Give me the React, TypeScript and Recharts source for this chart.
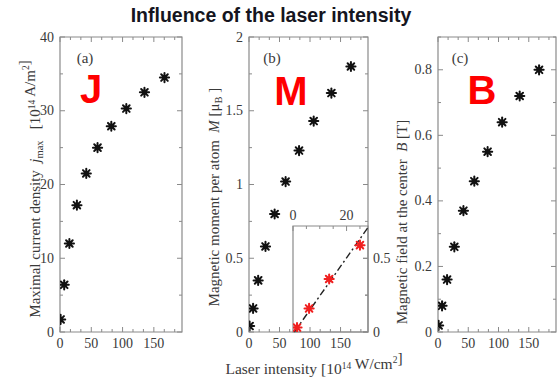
import React from "react";
import { ScatterChart, Scatter, XAxis, YAxis, ReferenceArea, ReferenceLine } from "recharts";

// laser intensity [10^14 W/cm^2]
const intensity = [1, 6.7, 15, 27, 42, 60, 82, 106, 135, 167];
// maximal current density j_max [10^14 A/m^2]
const currentDensity = [1.7, 6.4, 12.0, 17.2, 21.5, 25.0, 27.9, 30.3, 32.5, 34.5];
// magnetic moment per atom M [mu_B]
const magneticMoment = [0.04, 0.16, 0.35, 0.58, 0.8, 1.02, 1.23, 1.43, 1.62, 1.8];
// magnetic field at the center B [T]
const magneticField = [0.02, 0.08, 0.16, 0.26, 0.37, 0.46, 0.55, 0.64, 0.72, 0.8];

// low-intensity zoom of M with its linear fit
const insetIntensity = [1.5, 6, 13.5, 25];
const insetMoment = [0.03, 0.16, 0.36, 0.59];
const insetFitX = [0.5, 28];
const insetFitY = [0, 0.71];

const xLabels = [0, 50, 100, 150];
const jLabels = [0, 10, 20, 30, 40];
const mLabels = [0, 0.5, 1, 1.5, 2];
const bLabels = [0, 0.2, 0.4, 0.6, 0.8];
const insetXLabels = [0, 20];
const insetYLabels = [0, 0.5];

const W = 559;
const H = 383;
const TOP = 37;
const BOTTOM = 332;
const X_MAX = 195;

const FRAME = "#8a8a8a";
const INK = "#3a3a3a";
const SERIF = "'Liberation Serif', 'Times New Roman', serif";
const SANS = "'Liberation Sans', Arial, sans-serif";

const steps = (max: number, step: number) => {
  const out: number[] = [];
  for (let v = 0; v <= max + 1e-9; v += step) out.push(Math.round(v * 1e6) / 1e6);
  return out;
};
const isMajor = (v: number, majors: number[]) => majors.some((m) => Math.abs(m - v) < 1e-6);

const toPoints = (xs: number[], ys: number[]) => xs.map((x, i) => ({ x, y: ys[i] }));

const Star = (props: any) => {
  const { cx, cy, color } = props;
  if (cx == null || cy == null) return null;
  const r = 4.6;
  const d = r * 0.72;
  return (
    <g stroke={color} strokeWidth={2} strokeLinecap="round">
      <line x1={cx - r} y1={cy} x2={cx + r} y2={cy} />
      <line x1={cx} y1={cy - r} x2={cx} y2={cy + r} />
      <line x1={cx - d} y1={cy - d} x2={cx + d} y2={cy + d} />
      <line x1={cx - d} y1={cy + d} x2={cx + d} y2={cy - d} />
      <circle cx={cx} cy={cy} r={2.7} fill={color} stroke="none" />
    </g>
  );
};

const fmt = (v: number) => String(Math.round(v * 100) / 100);
const tickText = { fontFamily: SERIF, fontSize: 14, fill: INK };

type PanelProps = {
  left: number;
  right: number;
  top: number;
  bottom: number;
  xDomain: [number, number];
  yDomain: [number, number];
  xMajor: number[];
  xStep: number;
  yMajor: number[];
  yStep: number;
  data: { x: number; y: number }[];
  color: string;
  inset?: boolean;
  fit?: { x: number; y: number }[];
};

function Panel(p: PanelProps) {
  const xTicks = steps(p.xDomain[1], p.xStep);
  const yTicks = steps(p.yDomain[1], p.yStep);

  const xTick = (t: any) => {
    const x = t.x;
    const v = t.payload.value;
    const major = isMajor(v, p.xMajor);
    const len = major ? 5 : 3;
    return (
      <g>
        {!p.inset && <line x1={x} x2={x} y1={p.bottom} y2={p.bottom - len} stroke={FRAME} />}
        <line x1={x} x2={x} y1={p.top} y2={p.top + len} stroke={FRAME} />
        {major && (
          <text x={x} y={p.inset ? p.top - 6 : p.bottom + 16} textAnchor="middle" style={tickText}>
            {fmt(v)}
          </text>
        )}
      </g>
    );
  };

  const yTick = (t: any) => {
    const y = t.y;
    const v = t.payload.value;
    const major = isMajor(v, p.yMajor);
    const len = major ? 5 : 3;
    return (
      <g>
        {!p.inset && <line x1={p.left} x2={p.left + len} y1={y} y2={y} stroke={FRAME} />}
        <line x1={p.right} x2={p.right - len} y1={y} y2={y} stroke={FRAME} />
        {major && (
          <text
            x={p.inset ? p.right + 5 : p.left - 6}
            y={y + 4.5}
            textAnchor={p.inset ? "start" : "end"}
            style={tickText}
          >
            {fmt(v)}
          </text>
        )}
      </g>
    );
  };

  // axes need a non-zero size to draw their ticks, so 1px is carved out of the margin
  const margin = p.inset
    ? { top: p.top - 1, bottom: H - p.bottom, left: p.left, right: W - p.right - 1 }
    : { top: p.top, bottom: H - p.bottom - 1, left: p.left - 1, right: W - p.right };

  return (
    <div style={{ position: "absolute", left: 0, top: 0 }}>
      <ScatterChart width={W} height={H} margin={margin}>
        <XAxis
          type="number"
          dataKey="x"
          domain={p.xDomain}
          ticks={xTicks}
          interval={0}
          height={1}
          orientation={p.inset ? "top" : "bottom"}
          axisLine={false}
          tickLine={false}
          tick={xTick}
          allowDataOverflow
        />
        <YAxis
          type="number"
          dataKey="y"
          domain={p.yDomain}
          ticks={yTicks}
          interval={0}
          width={1}
          orientation={p.inset ? "right" : "left"}
          axisLine={false}
          tickLine={false}
          tick={yTick}
          allowDataOverflow
        />
        <ReferenceArea
          x1={p.xDomain[0]}
          x2={p.xDomain[1]}
          y1={p.yDomain[0]}
          y2={p.yDomain[1]}
          fill="none"
          stroke={FRAME}
          strokeWidth={1.2}
          fillOpacity={0}
        />
        {p.fit && (
          <ReferenceLine
            segment={p.fit}
            stroke="#222"
            strokeWidth={1.4}
            strokeDasharray="7 3 2 3"
          />
        )}
        <Scatter
          data={p.data}
          isAnimationActive={false}
          shape={(s: any) => <Star cx={s.cx} cy={s.cy} color={p.color} />}
        />
      </ScatterChart>
    </div>
  );
}

const sub = (t: string) => (
  <>
    <tspan dy={3} fontSize={10.5}>
      {t}
    </tspan>
    <tspan dy={-3}>{"\u00a0"}</tspan>
  </>
);
const sup = (t: string) => (
  <>
    <tspan dy={-5.5} fontSize={9.5}>
      {t}
    </tspan>
    <tspan dy={5.5}>{""}</tspan>
  </>
);

export default function App() {
  const panelX = { xDomain: [0, X_MAX] as [number, number], xMajor: xLabels, xStep: 50 / 3 };
  return (
    <div style={{ position: "absolute", left: 0, top: 0, width: W, height: H, background: "#fff" }}>
      <Panel
        {...panelX}
        left={60}
        right={182}
        top={TOP}
        bottom={BOTTOM}
        yDomain={[0, 40]}
        yMajor={jLabels}
        yStep={5}
        data={toPoints(intensity, currentDensity)}
        color="#111"
      />
      <Panel
        {...panelX}
        left={249}
        right={368}
        top={TOP}
        bottom={BOTTOM}
        yDomain={[0, 2]}
        yMajor={mLabels}
        yStep={0.25}
        data={toPoints(intensity, magneticMoment)}
        color="#111"
      />
      <Panel
        xDomain={[0, 28]}
        xMajor={insetXLabels}
        xStep={5}
        left={293}
        right={368}
        top={226}
        bottom={BOTTOM}
        yDomain={[0, 0.72]}
        yMajor={insetYLabels}
        yStep={0.25}
        data={toPoints(insetIntensity, insetMoment)}
        color="#f02020"
        inset
        fit={toPoints(insetFitX, insetFitY)}
      />
      <Panel
        {...panelX}
        left={438}
        right={556}
        top={TOP}
        bottom={BOTTOM}
        yDomain={[0, 0.9]}
        yMajor={bLabels}
        yStep={0.1}
        data={toPoints(intensity, magneticField)}
        color="#111"
      />

      <svg width={W} height={H} style={{ position: "absolute", left: 0, top: 0, pointerEvents: "none" }}>
        <text
          x={271}
          y={22}
          textAnchor="middle"
          style={{ fontFamily: SANS, fontWeight: "bold", fontSize: 19.5, fill: "#151520" }}
        >
          Influence of the laser intensity
        </text>

        <g style={{ fontFamily: SERIF, fontSize: 15, fill: INK }}>
          <text x={85} y={63} textAnchor="middle">(a)</text>
          <text x={272} y={63} textAnchor="middle">(b)</text>
          <text x={460} y={63} textAnchor="middle">(c)</text>
        </g>

        <g style={{ fontFamily: SANS, fontWeight: "bold", fontSize: 40, fill: "#ff0000" }} textAnchor="middle">
          <text x={91} y={103}>J</text>
          <text x={291} y={105}>M</text>
          <text x={482} y={104}>B</text>
        </g>

        <g style={{ fontFamily: SERIF, fontSize: 15, fill: INK }}>
          <text transform="translate(40,189) rotate(-90)" textAnchor="middle">
            Maximal current density{"\u00a0\u00a0"}
            <tspan fontStyle="italic">j</tspan>
            {sub("max")}
            {"\u00a0\u00a0"}[10{sup("14")} A/m{sup("2")}]
          </text>
          <text transform="translate(219,197) rotate(-90)" textAnchor="middle">
            Magnetic moment per atom{"\u00a0\u00a0"}
            <tspan fontStyle="italic">M</tspan>
            {"\u00a0"}[μ{sub("B")}]
          </text>
          <text transform="translate(407,222) rotate(-90)" textAnchor="middle">
            Magnetic field at the center{"\u00a0\u00a0"}
            <tspan fontStyle="italic">B</tspan>
            {"\u00a0"}[T]
          </text>
          <text x={314} y={374} textAnchor="middle" style={{ fontSize: 15.5 }}>
            Laser intensity [10{sup("14")} W/cm{sup("2")}]
          </text>
        </g>
      </svg>
    </div>
  );
}
